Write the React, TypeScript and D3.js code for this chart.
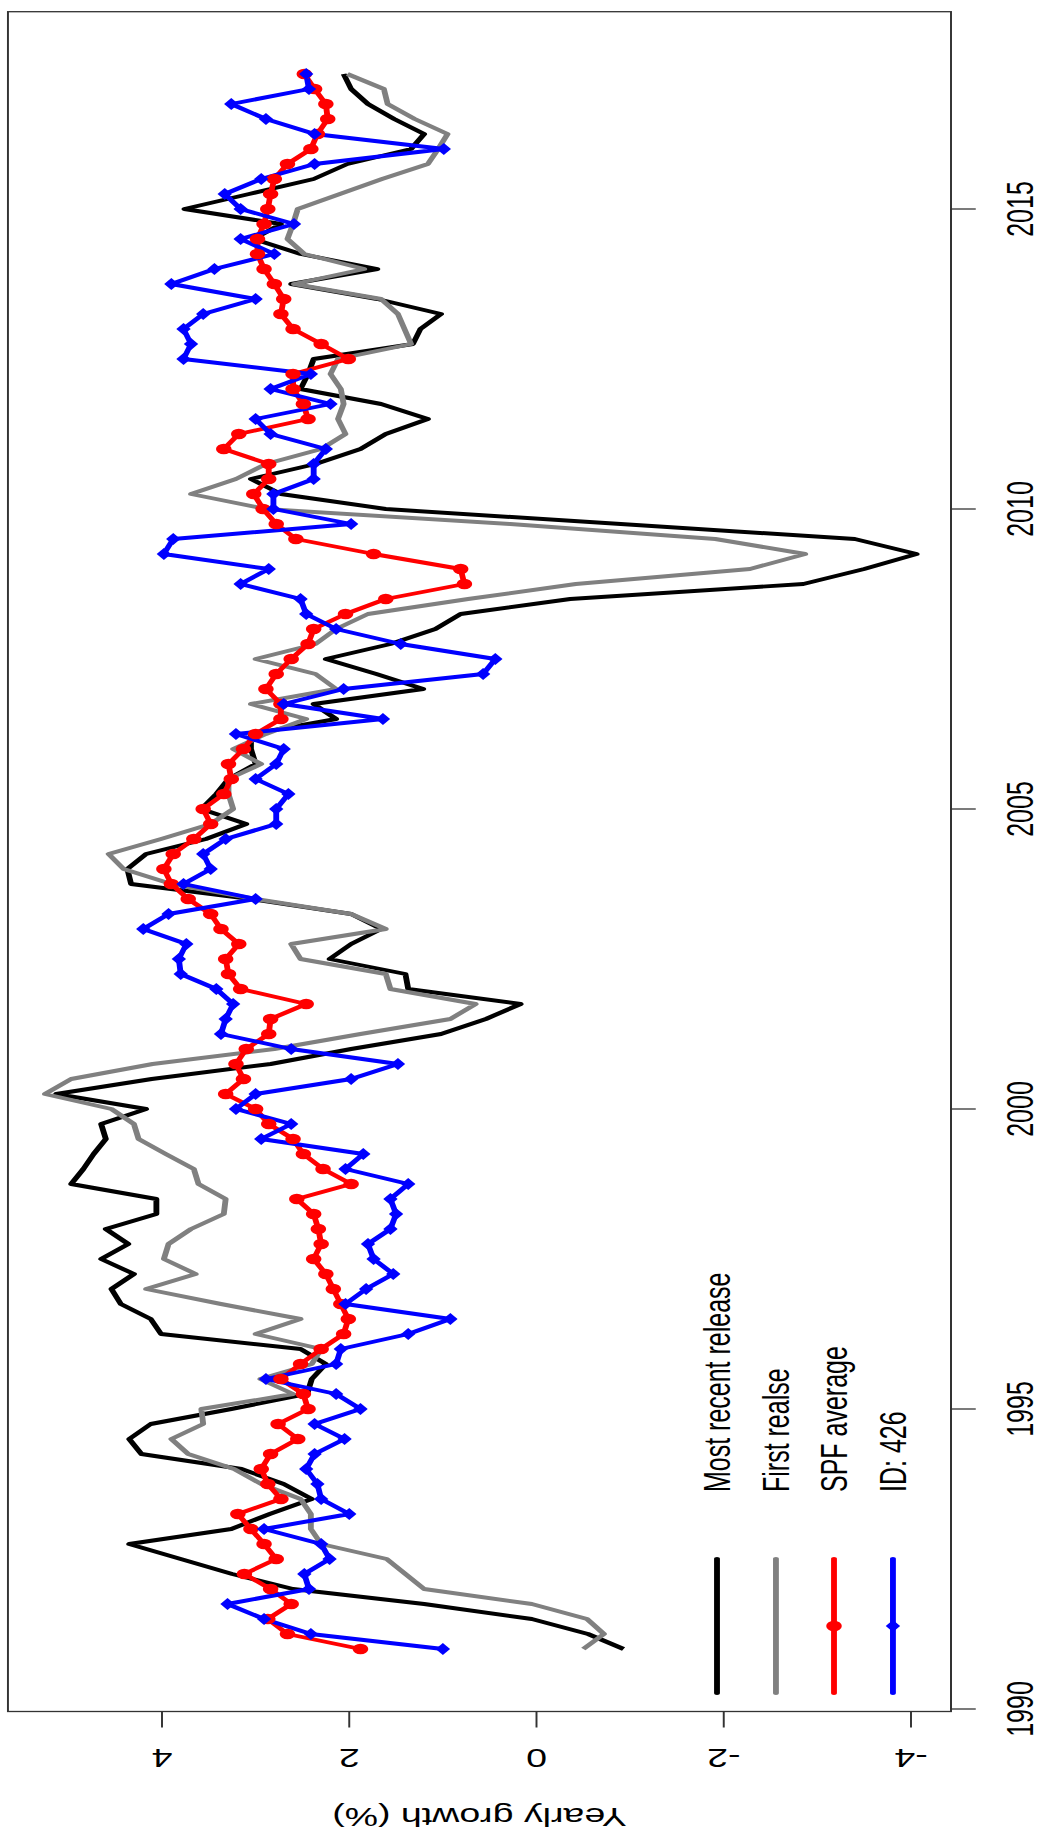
import React from "react";
import * as d3 from "d3";

// quarterly observations, 1991Q1 .. 2017Q2
const startYear = 1991;

const mostRecent = [
  -0.93, -0.55, 0.05, 1.2, 2.6, 3.25, 3.8, 4.35, 3.26, 2.85, 2.4, 2.7, 3.15, 4.22, 4.35, 4.12,
  3.26, 2.45, 2.4, 2.25, 2.52, 4.01, 4.12, 4.44, 4.54, 4.3, 4.65, 4.36, 4.6, 4.06, 4.06, 4.97,
  4.84, 4.73, 4.6, 4.65, 4.17, 5.13, 4.11, 2.84, 1.98, 1.02, 0.54, 0.17, 1.37, 1.4, 2.21, 1.98,
  1.66, 1.98, 3.05, 4.33, 4.37, 4.17, 3.53, 3.1, 3.58, 3.42, 3.29, 3.0, 3.05, 3.05, 2.14, 2.38,
  1.21, 1.71, 2.25, 1.56, 1.08, 0.81, -0.36, -2.85, -3.5, -4.06, -3.4, -0.9, 1.61, 2.73, 3.05, 2.36,
  1.88, 1.61, 1.16, 1.66, 2.52, 2.44, 2.38, 1.32, 1.24, 1.02, 1.7, 2.62, 1.7, 2.52, 3.02, 2.73,
  3.76, 3.07, 2.38, 2.02, 1.34, 1.2, 1.52, 1.8, 1.98, 2.06,
];

const firstRelease = [
  -0.5, -0.72, -0.54, 0.05, 1.2, 1.4, 1.6, 2.3, 2.41, 2.41, 2.52, 2.94, 3.23, 3.72, 3.9, 3.56,
  3.58, 2.6, 2.95, 2.4, 2.3, 3.0, 2.52, 3.37, 4.17, 3.64, 3.98, 3.93, 3.69, 3.34, 3.32, 3.61,
  3.66, 3.96, 4.25, 4.3, 4.54, 5.25, 4.97, 4.1, 2.8, 1.88, 0.92, 0.65, 1.56, 1.61, 2.52, 2.62,
  1.61, 1.98, 3.0, 3.9, 4.41, 4.57, 4.01, 3.48, 3.24, 3.29, 3.29, 2.94, 3.24, 2.89, 2.46, 3.05,
  2.14, 2.36, 3.0, 2.36, 2.14, 1.8, 0.73, -0.42, -2.28, -2.87, -1.91, 0.28, 2.89, 3.69, 3.21, 2.89,
  2.3, 2.04, 2.12, 2.06, 2.09, 2.2, 2.12, 1.34, 1.41, 1.48, 1.66, 2.59, 1.84, 2.48, 2.66, 2.6,
  2.55, 2.1, 1.65, 1.16, 1.05, 0.95, 1.3, 1.59, 1.63, 2.02,
];

const spfAverage = [
  1.88, 2.66, 2.87, 2.62, 2.84, 3.12, 2.78, 2.91, 3.05, 3.19, 2.73, 2.87, 2.94, 2.84, 2.55, 2.76,
  2.44, 2.49, 2.73, 2.52, 2.3, 2.06, 2.01, 2.09, 2.17, 2.25, 2.38, 2.3, 2.33, 2.38, 2.56, 1.98,
  2.28, 2.49, 2.6, 2.86, 3.0, 3.32, 3.13, 3.21, 3.1, 2.86, 2.84, 2.46, 3.16, 3.29, 3.32, 3.18,
  3.37, 3.48, 3.72, 3.9, 3.98, 3.88, 3.66, 3.48, 3.56, 3.34, 3.26, 3.29, 3.13, 3.0, 2.73, 2.73,
  2.89, 2.78, 2.62, 2.44, 2.38, 2.04, 1.61, 0.77, 0.81, 1.74, 2.57, 2.78, 2.92, 3.02, 2.86, 2.86,
  3.34, 3.18, 2.44, 2.49, 2.6, 2.6, 2.01, 2.3, 2.6, 2.73, 2.7, 2.8, 2.91, 2.98, 2.98, 2.91,
  2.87, 2.84, 2.8, 2.66, 2.41, 2.34, 2.23, 2.25, 2.37, 2.48,
];

const id426 = [
  1.0, 2.41, 2.91, 3.3, 2.43, 2.48, 2.21, 2.3, 2.91, 2.0, 2.3, 2.34, 2.46, 2.37, 2.05, 2.37,
  1.88, 2.14, 2.89, 2.14, 2.09, 1.37, 0.92, 2.04, 1.82, 1.53, 1.74, 1.8, 1.56, 1.5, 1.56, 1.37,
  2.04, 1.85, 2.94, 2.62, 3.21, 3.0, 1.98, 1.48, 2.62, 3.37, 3.32, 3.24, 3.42, 3.8, 3.82, 3.74,
  4.2, 3.93, 3.0, 3.77, 3.48, 3.56, 3.32, 2.78, 2.78, 2.65, 3.0, 2.78, 2.7, 3.21, 1.64, 2.7,
  2.06, 0.57, 0.44, 1.45, 2.14, 2.46, 2.52, 3.16, 2.86, 3.98, 3.88, 1.98, 2.81, 2.81, 2.38, 2.38,
  2.25, 2.84, 3.0, 2.2, 2.84, 2.41, 3.77, 3.69, 3.77, 3.56, 3.0, 3.9, 3.44, 2.8, 3.16, 2.59,
  3.16, 3.33, 2.94, 2.37, 0.99, 2.37, 2.89, 3.26, 2.43, 2.46,
];

const yearTicks = [1990, 1995, 2000, 2005, 2010, 2015];
const growthTicks = [4, 2, 0, -2, -4];
const legendLabels = ["Most recent release", "First realse", "SPF average", "ID: 426"];
const seriesColors = ["#000000", "#808080", "#ff0000", "#0000ff"];

const quarters = mostRecent.map((_, i) => startYear + i / 4);

const FONT = "'Liberation Sans', Arial, sans-serif";

export default function App() {
  // the picture is the R plot turned a quarter turn and stretched 1.5x across,
  // so everything is laid out in unstretched units and scaled at the end
  const stretch = 1.5;
  const box = { left: 5.3, right: 634, top: 11.7, bottom: 1711.5 };
  const lw = 3.9;

  const t = d3.scaleLinear().domain([1990, 2015]).range([1709, 209]);
  const g = d3.scaleLinear().domain([4, -4]).range([108, 607.33]);

  const line = d3
    .line<number>()
    .x((d) => g(d))
    .y((d, i) => t(quarters[i]));

  const series = [mostRecent, firstRelease, spfAverage, id426];

  const diamond = (cx: number, cy: number, r: number) =>
    `M${cx},${cy - r}L${cx + r * 0.8},${cy}L${cx},${cy + r}L${cx - r * 0.8},${cy}Z`;

  const legendX = [478, 517.3, 556, 595.3];

  return (
    <div style={{ position: "absolute", left: 0, top: 0 }}>
      <svg width={1040} height={1834} style={{ display: "block", background: "#fff" }}>
        <g transform={`scale(${stretch},1)`} fontFamily={FONT}>
          <rect
            x={box.left}
            y={box.top}
            width={box.right - box.left}
            height={box.bottom - box.top}
            fill="none"
            stroke="#333"
            strokeWidth={1.3}
          />

          {/* year axis on the right */}
          <line x1={box.right} x2={box.right} y1={t(1990)} y2={t(2015)} stroke="#333" strokeWidth={1.3} />
          {yearTicks.map((yr) => (
            <g key={yr}>
              <line x1={box.right} x2={box.right + 16.5} y1={t(yr)} y2={t(yr)} stroke="#333" strokeWidth={1.3} />
              <text
                transform={`translate(680,${t(yr)}) rotate(-90)`}
                textAnchor="middle"
                dominantBaseline="central"
                fontSize={25}
                fill="#000"
              >
                {yr}
              </text>
            </g>
          ))}

          {/* growth axis at the bottom */}
          {growthTicks.map((v) => (
            <g key={v}>
              <line x1={g(v)} x2={g(v)} y1={box.bottom} y2={box.bottom + 16} stroke="#333" strokeWidth={1.3} />
              <text
                transform={`translate(${g(v)},1758) rotate(180)`}
                textAnchor="middle"
                dominantBaseline="central"
                fontSize={25}
                fill="#000"
              >
                {v}
              </text>
            </g>
          ))}
          <text
            transform={`translate(${(box.left + box.right) / 2},1817) rotate(180)`}
            textAnchor="middle"
            dominantBaseline="central"
            fontSize={25}
            fill="#000"
          >
            Yearly growth (%)
          </text>

          {/* series */}
          {series.map((s, k) => (
            <path
              key={k}
              d={line(s) || ""}
              fill="none"
              stroke={seriesColors[k]}
              strokeWidth={lw}
              strokeLinejoin="round"
            />
          ))}
          {spfAverage.map((v, i) => (
            <circle key={"r" + i} cx={g(v)} cy={t(quarters[i])} r={5.2} fill="#ff0000" />
          ))}
          {id426.map((v, i) => (
            <path key={"b" + i} d={diamond(g(v), t(quarters[i]), 6)} fill="#0000ff" />
          ))}

          {/* legend */}
          {legendLabels.map((lab, k) => (
            <g key={lab}>
              <line
                x1={legendX[k]}
                x2={legendX[k]}
                y1={1559}
                y2={1693}
                stroke={seriesColors[k]}
                strokeWidth={lw}
                strokeLinecap="round"
              />
              {k === 2 && <circle cx={legendX[k]} cy={1626} r={5.2} fill="#ff0000" />}
              {k === 3 && <path d={diamond(legendX[k], 1626, 6)} fill="#0000ff" />}
              <text
                transform={`translate(${legendX[k]},1492) rotate(-90)`}
                textAnchor="start"
                dominantBaseline="central"
                fontSize={25}
                fill="#000"
              >
                {lab}
              </text>
            </g>
          ))}
        </g>
      </svg>
    </div>
  );
}
